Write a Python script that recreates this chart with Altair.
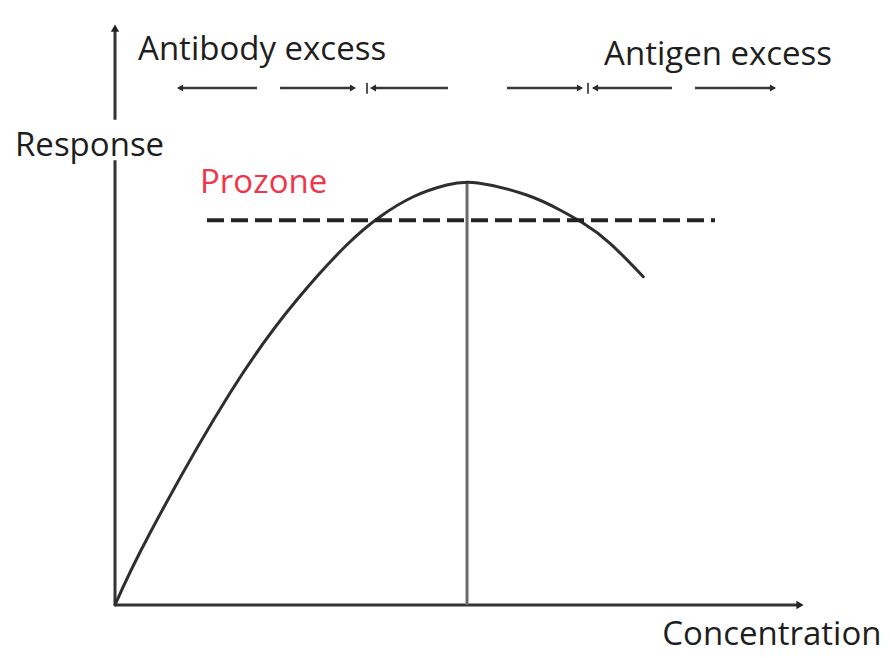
import altair as alt
import pandas as pd

# ---- data (concentration / response units) ----
curve_x = [0, 5.11, 16.79, 26.53, 33.82, 38.69, 43.55, 48.42,
           52.99, 60.10, 64.96, 68.37, 72.26, 77.12]
curve_y = [0, 12.48, 36.74, 52.86, 62.39, 67.30, 70.76, 72.79,
           73.14, 71.06, 68.46, 66.15, 62.69, 56.90]

peak_x = 51.39
peak_y = 73.1

prozone_level = 66.7
prozone_from = 13.43
prozone_to = 87.59

arrow_level = 89.6
arrow_from = [9.49, 24.09, 37.66, 57.23, 70.07, 84.67]
arrow_to = [20.73, 34.74, 48.61, 67.88, 81.31, 96.06]
arrow_head = ["left", "right", "left", "right", "left", "right"]
divider_x = [36.79, 69.05]

axis_max_x = 100
axis_max_y = 100
y_axis_gap = [77.1, 84.1]

labels = ["Antibody excess", "Antigen excess", "Response", "Prozone", "Concentration"]
label_x = [3.36, 71.39, -14.6, 12.41, 79.9]
label_y = [94.45, 93.59, 77.9, 71.4, -6.9]
label_color = ["#1e1e1e", "#1e1e1e", "#1e1e1e", "#f0364a", "#1e1e1e"]

X_DOMAIN = [-15.62, 111.97]
Y_DOMAIN = [-8.49, 103.47]

xs = alt.Scale(domain=X_DOMAIN, nice=False, zero=False)
ys = alt.Scale(domain=Y_DOMAIN, nice=False, zero=False)


def X(f="x"):
    return alt.X(f"{f}:Q", scale=xs, axis=None)


def Y(f="y"):
    return alt.Y(f"{f}:Q", scale=ys, axis=None)


# curve
curve_df = pd.DataFrame({"x": curve_x, "y": curve_y})
curve = alt.Chart(curve_df).mark_line(
    color="#2e2e2e", strokeWidth=3, interpolate="natural", strokeCap="round"
).encode(x=X(), y=Y())

# vertical line at the peak
peak_df = pd.DataFrame({"x": [peak_x], "y": [0], "y2": [peak_y]})
peak_rule = alt.Chart(peak_df).mark_rule(color="#6a6a6a", strokeWidth=3).encode(
    x=X(), y=Y(), y2="y2:Q"
)

# prozone dashed line
pz_df = pd.DataFrame({"x": [prozone_from], "x2": [prozone_to], "y": [prozone_level]})
pz = alt.Chart(pz_df).mark_rule(
    color="#222222", strokeWidth=4, strokeDash=[17, 7]
).encode(x=X(), x2="x2:Q", y=Y())

# axes
ax_df = pd.DataFrame({
    "x": [0, 0, 0],
    "x2": [axis_max_x, 0, 0],
    "y": [0, 0, y_axis_gap[1]],
    "y2": [0, y_axis_gap[0], axis_max_y],
})
axes = alt.Chart(ax_df).mark_rule(color="#333333", strokeWidth=3).encode(
    x=X(), x2="x2:Q", y=Y(), y2="y2:Q"
)
axhead_df = pd.DataFrame({
    "x": [axis_max_x, 0], "y": [0, axis_max_y],
    "shape": ["triangle-right", "triangle-up"],
})
axheads = alt.Chart(axhead_df).mark_point(
    filled=True, color="#222222", size=70, opacity=1
).encode(x=X(), y=Y(), shape=alt.Shape("shape:N", scale=None, legend=None))

# top arrows
arr_df = pd.DataFrame({"x": arrow_from, "x2": arrow_to, "y": [arrow_level] * 6})
arrows = alt.Chart(arr_df).mark_rule(color="#3a3a3a", strokeWidth=2.5).encode(
    x=X(), x2="x2:Q", y=Y()
)
head_x = [a if h == "left" else b for a, b, h in zip(arrow_from, arrow_to, arrow_head)]
head_df = pd.DataFrame({
    "x": head_x, "y": [arrow_level] * 6,
    "shape": ["triangle-" + h for h in arrow_head],
})
heads = alt.Chart(head_df).mark_point(
    filled=True, color="#2a2a2a", size=50, opacity=1
).encode(x=X(), y=Y(), shape=alt.Shape("shape:N", scale=None, legend=None))

div_df = pd.DataFrame({"x": divider_x, "y": [arrow_level - 1.0] * 2, "y2": [arrow_level + 0.9] * 2})
dividers = alt.Chart(div_df).mark_rule(color="#555555", strokeWidth=2).encode(
    x=X(), y=Y(), y2="y2:Q"
)

# labels
lab_df = pd.DataFrame({"x": label_x, "y": label_y, "t": labels, "c": label_color})
texts = alt.Chart(lab_df).mark_text(
    align="left", baseline="alphabetic", font="Open Sans", fontSize=33
).encode(x=X(), y=Y(), text="t:N", color=alt.Color("c:N", scale=None, legend=None))

chart = alt.layer(
    axes, axheads, peak_rule, curve, pz, arrows, heads, dividers, texts
).properties(
    width=874, height=646,
    autosize=alt.AutoSizeParams(type="none"),
    padding=0,
    background="white",
).configure_view(stroke=None)

chart.save("out.html", embed_options={"renderer": "svg", "actions": False})
